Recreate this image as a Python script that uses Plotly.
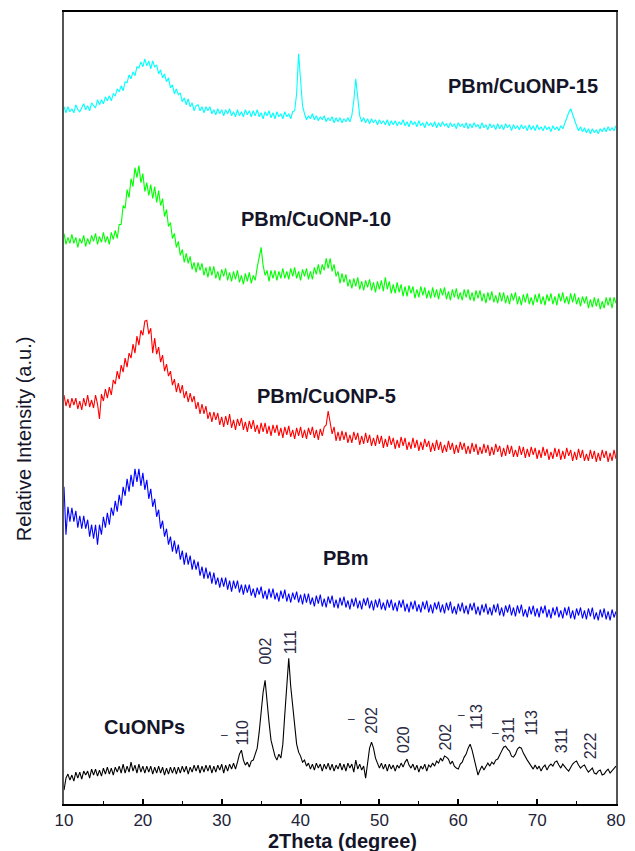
import plotly.graph_objects as go

# 2-theta sampling positions (degrees), 0.25 deg step
two_theta = [10 + 0.25 * i for i in range(281)]

# Intensities (a.u., stacked offsets included); rows = 5 degrees each
cuonp15 = [
    699, 693, 699, 694, 697, 693, 701, 696, 694, 699, 702, 696, 700, 695, 703, 700, 698, 706, 701, 706,
    702, 709, 705, 710, 705, 712, 710, 717, 714, 720, 715, 724, 723, 731, 727, 734, 730, 739, 738, 744,
    739, 747, 740, 745, 737, 745, 739, 741, 732, 736, 728, 732, 724, 728, 718, 721, 712, 717, 711, 713,
    704, 708, 701, 707, 699, 703, 695, 700, 701, 695, 699, 693, 699, 695, 699, 692, 696, 691, 697, 692,
    696, 690, 696, 692, 697, 690, 694, 689, 696, 690, 694, 689, 696, 691, 695, 689, 695, 690, 696, 689,
    693, 687, 694, 690, 695, 688, 693, 687, 694, 689, 692, 687, 694, 689, 692, 687, 694, 695, 712, 752,
    730, 700, 692, 686, 690, 687, 692, 686, 690, 685, 689, 686, 690, 684, 688, 685, 689, 683, 688, 684,
    688, 683, 687, 684, 688, 684, 690, 705, 727, 705, 690, 684, 688, 683, 687, 682, 687, 683, 686, 681,
    686, 682, 685, 681, 686, 680, 685, 681, 685, 680, 684, 681, 686, 680, 684, 679, 685, 681, 684, 679,
    685, 680, 683, 678, 684, 680, 683, 679, 684, 678, 683, 679, 684, 680, 682, 678, 683, 679, 682, 677,
    683, 679, 682, 678, 683, 677, 682, 678, 683, 679, 681, 677, 683, 678, 681, 676, 682, 678, 681, 676,
    682, 677, 681, 676, 682, 678, 681, 675, 681, 677, 680, 676, 681, 677, 680, 675, 681, 676, 680, 675,
    681, 676, 679, 675, 680, 676, 679, 674, 680, 676, 679, 675, 680, 677, 683, 688, 693, 697, 691, 684,
    680, 675, 679, 674, 678, 673, 677, 672, 677, 673, 676, 672, 677, 674, 678, 674, 679, 675, 678, 675,
    680]

cuonp10 = [
    572, 561, 568, 562, 571, 562, 568, 558, 567, 562, 570, 559, 567, 561, 570, 564, 572, 561, 569, 563,
    573, 563, 569, 561, 573, 566, 575, 567, 581, 581, 600, 597, 616, 608, 627, 619, 638, 628, 640, 623,
    632, 614, 623, 610, 621, 607, 619, 603, 615, 600, 607, 589, 596, 579, 583, 567, 572, 558, 564, 550,
    556, 543, 552, 542, 549, 536, 543, 533, 543, 535, 542, 530, 538, 528, 539, 530, 539, 527, 534, 525,
    536, 529, 537, 525, 533, 524, 534, 526, 535, 523, 530, 521, 532, 524, 533, 522, 530, 525, 538, 548,
    558, 540, 530, 535, 524, 535, 527, 535, 525, 534, 527, 537, 527, 534, 526, 537, 529, 538, 527, 534,
    525, 536, 529, 537, 526, 534, 526, 538, 531, 541, 531, 541, 535, 547, 537, 547, 534, 541, 529, 534,
    522, 532, 523, 531, 519, 526, 517, 527, 519, 528, 516, 524, 515, 525, 518, 526, 515, 523, 513, 524,
    516, 525, 514, 528, 516, 524, 512, 521, 512, 523, 513, 521, 509, 519, 509, 520, 512, 519, 507, 516,
    508, 519, 510, 518, 507, 515, 507, 518, 508, 516, 506, 517, 510, 518, 506, 514, 505, 516, 508, 517,
    506, 513, 505, 516, 508, 516, 505, 513, 504, 515, 507, 515, 504, 512, 502, 513, 505, 514, 503, 510,
    502, 513, 504, 513, 502, 510, 501, 512, 505, 513, 501, 509, 500, 511, 503, 512, 501, 508, 500, 511,
    503, 512, 501, 509, 500, 511, 504, 512, 501, 509, 500, 512, 504, 513, 502, 509, 501, 512, 503, 512,
    501, 508, 499, 509, 502, 509, 497, 506, 498, 508, 499, 507, 496, 504, 497, 508, 500, 508, 497, 508,
    502]

cuonp5 = [
    410, 399, 406, 397, 407, 400, 407, 396, 404, 395, 407, 399, 410, 398, 405, 397, 410, 401, 386, 411,
    404, 416, 407, 418, 410, 425, 421, 434, 426, 440, 433, 447, 438, 452, 447, 461, 452, 469, 460, 475,
    470, 484, 485, 471, 477, 452, 467, 451, 458, 443, 450, 434, 441, 429, 434, 420, 426, 413, 422, 412,
    420, 407, 414, 403, 412, 403, 409, 396, 403, 391, 401, 391, 399, 386, 393, 383, 393, 385, 392, 380,
    388, 378, 389, 380, 391, 377, 385, 375, 386, 379, 387, 375, 383, 373, 384, 376, 385, 373, 380, 371,
    382, 373, 382, 371, 379, 369, 380, 372, 380, 369, 377, 367, 378, 370, 379, 368, 375, 366, 377, 369,
    378, 367, 375, 366, 377, 370, 378, 367, 375, 365, 376, 369, 378, 380, 394, 381, 371, 378, 364, 373,
    364, 374, 365, 373, 362, 370, 362, 373, 365, 372, 360, 369, 361, 372, 362, 370, 359, 367, 359, 370,
    361, 369, 357, 366, 358, 369, 360, 367, 356, 365, 357, 368, 359, 367, 355, 363, 356, 367, 357, 365,
    354, 363, 355, 366, 358, 364, 353, 362, 354, 365, 355, 363, 352, 360, 353, 364, 355, 362, 351, 360,
    352, 363, 355, 362, 351, 359, 351, 362, 353, 361, 350, 358, 351, 361, 352, 360, 349, 358, 350, 361,
    353, 359, 348, 357, 349, 360, 351, 359, 348, 355, 348, 359, 350, 358, 347, 356, 348, 358, 350, 357,
    346, 355, 347, 358, 349, 356, 345, 353, 346, 357, 348, 356, 345, 354, 346, 357, 349, 355, 344, 353,
    345, 356, 347, 355, 344, 351, 344, 355, 346, 354, 343, 352, 344, 355, 347, 354, 343, 352, 344, 355,
    346]

pbm = [
    318, 270, 298, 283, 297, 283, 294, 277, 289, 276, 289, 276, 285, 268, 280, 266, 280, 260, 280, 270,
    288, 277, 292, 280, 297, 289, 304, 293, 310, 299, 318, 309, 326, 313, 330, 318, 336, 323, 336, 319,
    332, 315, 325, 306, 316, 298, 306, 288, 295, 276, 284, 268, 276, 260, 268, 253, 264, 251, 260, 245,
    254, 240, 252, 240, 249, 235, 245, 235, 243, 229, 238, 226, 237, 226, 233, 221, 232, 220, 227, 217,
    227, 218, 227, 215, 224, 213, 224, 216, 224, 212, 220, 210, 220, 212, 220, 209, 216, 207, 217, 210,
    218, 206, 214, 205, 216, 207, 216, 205, 212, 203, 214, 206, 215, 203, 211, 202, 212, 205, 213, 202,
    210, 200, 211, 202, 211, 200, 207, 198, 209, 201, 210, 198, 206, 197, 208, 201, 209, 197, 205, 196,
    207, 199, 208, 197, 204, 195, 206, 198, 207, 196, 204, 195, 206, 199, 207, 196, 204, 194, 205, 197,
    206, 195, 202, 194, 205, 197, 205, 194, 202, 193, 204, 197, 205, 193, 201, 192, 203, 195, 204, 193,
    200, 192, 203, 195, 204, 192, 200, 191, 202, 195, 203, 192, 200, 191, 202, 194, 203, 191, 198, 190,
    201, 193, 202, 191, 199, 190, 201, 194, 202, 190, 198, 189, 200, 192, 201, 190, 197, 189, 200, 192,
    201, 189, 197, 188, 199, 192, 200, 189, 197, 188, 199, 191, 200, 188, 195, 187, 198, 190, 199, 188,
    196, 187, 198, 191, 199, 187, 195, 186, 197, 189, 198, 187, 194, 186, 197, 189, 198, 186, 194, 185,
    196, 189, 197, 186, 194, 185, 196, 188, 197, 185, 192, 184, 195, 187, 196, 185, 193, 184, 195, 187,
    193]

cuonps = [
    14, 26, 30, 24, 29, 23, 32, 26, 32, 25, 33, 29, 33, 26, 35, 29, 35, 28, 34, 28,
    36, 30, 37, 30, 36, 29, 37, 32, 38, 31, 40, 31, 38, 32, 42, 33, 39, 31, 40, 32,
    38, 31, 38, 32, 38, 30, 37, 31, 38, 31, 37, 29, 36, 30, 37, 31, 37, 30, 37, 31,
    38, 32, 38, 30, 37, 32, 39, 33, 39, 31, 38, 32, 39, 33, 39, 31, 38, 32, 39, 34,
    40, 31, 39, 33, 40, 35, 41, 35, 42, 50, 54, 44, 39, 42, 37, 43, 44, 50, 56, 72,
    92, 112, 124, 100, 82, 64, 56, 48, 44, 50, 46, 60, 90, 118, 146, 118, 96, 74, 60, 52,
    48, 42, 44, 38, 41, 35, 40, 34, 41, 36, 40, 33, 40, 35, 41, 34, 40, 33, 39, 35,
    41, 34, 40, 33, 41, 36, 40, 32, 44, 35, 40, 34, 38, 26, 44, 56, 62, 56, 46, 40,
    36, 41, 35, 40, 33, 40, 35, 39, 33, 39, 36, 41, 37, 42, 45, 39, 36, 40, 34, 39,
    32, 38, 35, 40, 33, 39, 37, 41, 38, 43, 41, 46, 43, 48, 47, 45, 40, 43, 38, 36,
    35, 40, 42, 47, 50, 56, 60, 54, 46, 36, 29, 34, 38, 34, 37, 41, 38, 42, 40, 44,
    45, 50, 53, 57, 58, 55, 53, 48, 47, 50, 55, 57, 56, 51, 47, 44, 41, 38, 35, 39,
    35, 38, 33, 37, 39, 34, 38, 40, 38, 42, 43, 39, 36, 40, 37, 35, 33, 37, 40, 42,
    43, 39, 36, 38, 39, 35, 32, 34, 36, 31, 30, 33, 34, 29, 30, 33, 35, 31, 33, 36,
    38]

series_names = ["PBm/CuONP-15", "PBm/CuONP-10", "PBm/CuONP-5", "PBm", "CuONPs"]
series_values = [cuonp15, cuonp10, cuonp5, pbm, cuonps]
series_colors = ["#00FFFF", "#00FF00", "#FF0000", "#0000FF", "#000000"]

# curve labels: text, 2theta, intensity, anchor
curve_labels = [
    ("PBm/CuONP-15", 58.4, 720, "left"),
    ("PBm/CuONP-10", 32.24, 586, "left"),
    ("PBm/CuONP-5", 34.26, 409, "left"),
    ("PBm", 42.6, 247, "left"),
    ("CuONPs", 20.24, 77, "center"),
]

# hkl reflections of CuO: text, 2theta, intensity
hkl_labels = [
    ("110", 32.62, 72), ("002", 35.49, 153), ("111", 38.65, 162), ("202", 49.0, 84),
    ("020", 52.96, 65), ("202", 58.36, 67), ("113", 62.31, 87), ("311", 66.36, 75),
    ("113", 69.26, 82), ("311", 73.05, 64), ("222", 76.72, 58),
]
# bars (negative index markers): 2theta, intensity
bar_marks = [(30.34, 69), (46.5, 85), (60.4, 89), (64.7, 71)]

for v in series_values:
    assert len(v) == len(two_theta), len(v)

fig = go.Figure()
for name, vals, col in zip(series_names, series_values, series_colors):
    fig.add_trace(go.Scatter(x=two_theta, y=vals, mode="lines", name=name,
                             line=dict(color=col, width=1.1), showlegend=False))

FONT = "Liberation Sans, Arial, sans-serif"
TXT = "#15152a"
annotations = []
for text, xv, yv, anc in curve_labels:
    annotations.append(dict(x=xv, y=yv, xref="x", yref="y", text=f"<b>{text}</b>", showarrow=False,
                            xanchor=anc, yanchor="middle", font=dict(family=FONT, size=20, color=TXT)))
for text, xv, yv in hkl_labels:
    annotations.append(dict(x=xv, y=yv, xref="x", yref="y", text=text, showarrow=False, textangle=-90,
                            xanchor="center", yanchor="middle", font=dict(family=FONT, size=16, color="#2a2a44")))
for xv, yv in bar_marks:
    annotations.append(dict(x=xv, y=yv, xref="x", yref="y", text="\u2013", showarrow=False,
                            xanchor="center", yanchor="middle", font=dict(family=FONT, size=12, color="#2a2a44")))

annotations.append(dict(x=0.505, y=-0.0465, xref="paper", yref="paper", text="<b>2Theta (degree)</b>",
                        showarrow=False, xanchor="center", yanchor="middle", borderpad=0,
                        font=dict(family=FONT, size=20, color=TXT)))
annotations.append(dict(x=-0.072, y=0.461, xref="paper", yref="paper", text="Relative Intensity (a.u.)",
                        showarrow=False, textangle=-90, xanchor="center", yanchor="middle",
                        font=dict(family=FONT, size=20, color=TXT)))

fig.update_layout(
    width=635, height=851,
    margin=dict(l=64, r=17, t=10, b=47),
    paper_bgcolor="white", plot_bgcolor="white",
    annotations=annotations,
    xaxis=dict(range=[10, 80], tickvals=[10, 20, 30, 40, 50, 60, 70, 80],
               ticks="inside", ticklen=5, tickwidth=1.5, tickcolor="black",
               minor=dict(dtick=5, tick0=0, ticks="inside", ticklen=3, tickcolor="black", tickwidth=1),
               showline=True, linecolor="black", linewidth=2, mirror=True,
               showgrid=False, zeroline=False,
               tickfont=dict(family=FONT, size=17, color="#222238")),
    yaxis=dict(range=[0, 794], showticklabels=False, ticks="", showline=True,
               linecolor="#555555", linewidth=1.5, mirror=True, showgrid=False, zeroline=False),
)

fig.write_html("out.html")
